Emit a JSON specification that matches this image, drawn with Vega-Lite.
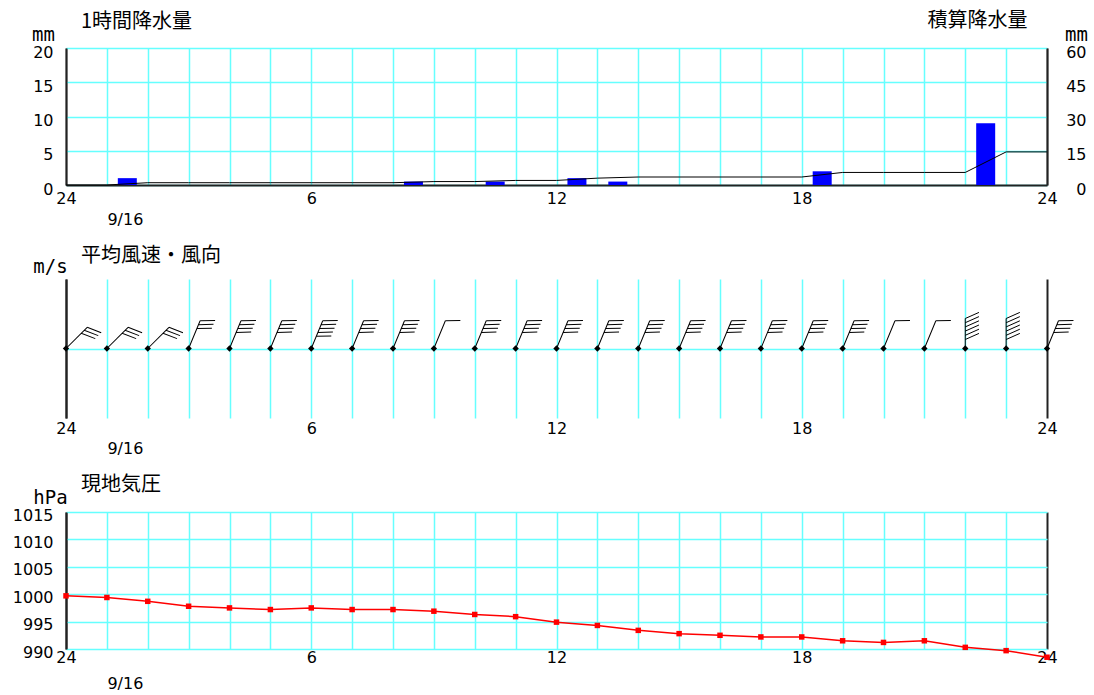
{
  "$schema": "https://vega.github.io/schema/vega-lite/v6.json",
  "padding": {"left": 12, "top": 10, "right": 5, "bottom": 5},
  "background": "#ffffff",
  "spacing": 94,
  "bounds": "flush",
  "datasets": {
    "precip": [
      {"t": 0.5, "mm": 0}, {"t": 1.5, "mm": 1.0}, {"t": 2.5, "mm": 0}, {"t": 3.5, "mm": 0},
      {"t": 4.5, "mm": 0}, {"t": 5.5, "mm": 0}, {"t": 6.5, "mm": 0}, {"t": 7.5, "mm": 0},
      {"t": 8.5, "mm": 0.5}, {"t": 9.5, "mm": 0}, {"t": 10.5, "mm": 0.5}, {"t": 11.5, "mm": 0},
      {"t": 12.5, "mm": 1.0}, {"t": 13.5, "mm": 0.5}, {"t": 14.5, "mm": 0}, {"t": 15.5, "mm": 0},
      {"t": 16.5, "mm": 0}, {"t": 17.5, "mm": 0}, {"t": 18.5, "mm": 2.0}, {"t": 19.5, "mm": 0},
      {"t": 20.5, "mm": 0}, {"t": 21.5, "mm": 0}, {"t": 22.5, "mm": 9.0}, {"t": 23.5, "mm": 0}
    ],
    "cum": [
      {"hour": 0, "total": 0}, {"hour": 1, "total": 0}, {"hour": 2, "total": 1.0}, {"hour": 3, "total": 1.0},
      {"hour": 4, "total": 1.0}, {"hour": 5, "total": 1.0}, {"hour": 6, "total": 1.0}, {"hour": 7, "total": 1.0},
      {"hour": 8, "total": 1.0}, {"hour": 9, "total": 1.5}, {"hour": 10, "total": 1.5}, {"hour": 11, "total": 2.0},
      {"hour": 12, "total": 2.0}, {"hour": 13, "total": 3.0}, {"hour": 14, "total": 3.5}, {"hour": 15, "total": 3.5},
      {"hour": 16, "total": 3.5}, {"hour": 17, "total": 3.5}, {"hour": 18, "total": 3.5}, {"hour": 19, "total": 5.5},
      {"hour": 20, "total": 5.5}, {"hour": 21, "total": 5.5}, {"hour": 22, "total": 5.5}, {"hour": 23, "total": 14.5},
      {"hour": 24, "total": 14.5}
    ],
    "wind": [
      {"hour": 0, "speed": 3, "direction": 45}, {"hour": 1, "speed": 3, "direction": 45},
      {"hour": 2, "speed": 3, "direction": 45}, {"hour": 3, "speed": 3, "direction": 22.5},
      {"hour": 4, "speed": 4, "direction": 22.5}, {"hour": 5, "speed": 4, "direction": 22.5},
      {"hour": 6, "speed": 5, "direction": 22.5}, {"hour": 7, "speed": 4, "direction": 22.5},
      {"hour": 8, "speed": 4, "direction": 22.5}, {"hour": 9, "speed": 1, "direction": 22.5},
      {"hour": 10, "speed": 4, "direction": 22.5}, {"hour": 11, "speed": 4, "direction": 22.5},
      {"hour": 12, "speed": 4, "direction": 22.5}, {"hour": 13, "speed": 4, "direction": 22.5},
      {"hour": 14, "speed": 4, "direction": 22.5}, {"hour": 15, "speed": 4, "direction": 22.5},
      {"hour": 16, "speed": 4, "direction": 22.5}, {"hour": 17, "speed": 4, "direction": 22.5},
      {"hour": 18, "speed": 4, "direction": 22.5}, {"hour": 19, "speed": 4, "direction": 22.5},
      {"hour": 20, "speed": 1, "direction": 22.5}, {"hour": 21, "speed": 1, "direction": 22.5},
      {"hour": 22, "speed": 6, "direction": 0}, {"hour": 23, "speed": 6, "direction": 0},
      {"hour": 24, "speed": 4, "direction": 22.5}
    ],
    "pressure": [
      {"hour": 0, "hPa": 999.7}, {"hour": 1, "hPa": 999.4}, {"hour": 2, "hPa": 998.7}, {"hour": 3, "hPa": 997.8},
      {"hour": 4, "hPa": 997.5}, {"hour": 5, "hPa": 997.2}, {"hour": 6, "hPa": 997.5}, {"hour": 7, "hPa": 997.2},
      {"hour": 8, "hPa": 997.2}, {"hour": 9, "hPa": 996.9}, {"hour": 10, "hPa": 996.3}, {"hour": 11, "hPa": 995.9},
      {"hour": 12, "hPa": 994.9}, {"hour": 13, "hPa": 994.3}, {"hour": 14, "hPa": 993.4}, {"hour": 15, "hPa": 992.8},
      {"hour": 16, "hPa": 992.5}, {"hour": 17, "hPa": 992.2}, {"hour": 18, "hPa": 992.2}, {"hour": 19, "hPa": 991.5},
      {"hour": 20, "hPa": 991.2}, {"hour": 21, "hPa": 991.5}, {"hour": 22, "hPa": 990.3}, {"hour": 23, "hPa": 989.7},
      {"hour": 24, "hPa": 988.5}
    ]
  },
  "vconcat": [
    {
      "width": 981,
      "height": 137,
      "title": {"text": "1時間降水量", "anchor": "start", "frame": "group", "dx": 15, "offset": -38, "baseline": "alphabetic", "font": "Noto Sans CJK JP", "fontSize": 20, "fontWeight": "normal", "color": "#000000"},
      "layer": [
        {
          "data": {"name": "precip"},
          "mark": {"type": "bar", "color": "#0000ff", "width": 19},
          "encoding": {
            "x": {"field": "t", "type": "quantitative", "scale": {"domain": [0, 24], "nice": false, "zero": false, "padding": 0},
              "axis": {"orient": "bottom", "title": null, "values": [0,1,2,3,4,5,6,7,8,9,10,11,12,13,14,15,16,17,18,19,20,21,22,23,24],
                "grid": true, "domain": true, "format": "d", "labelOverlap": false,
                "labelExpr": "datum.value == 0 || datum.value == 24 ? '24' : datum.value == 1 ? '9/16' : (datum.value % 6 == 0 ? datum.label : '')",
                "labelBaseline": "top",
                "labelAlign": {"condition": {"test": "datum.value == 1", "value": "left"}, "value": "center"},
                "labelPadding": {"condition": {"test": "datum.value == 1", "value": 26}, "value": 5},
                "gridColor": {"condition": {"test": "datum.value == 0 || datum.value == 24", "value": "#222222"}, "value": "#66ffff"}}},
            "y": {"field": "mm", "type": "quantitative", "scale": {"domain": [0, 20], "nice": false},
              "axis": {"orient": "left", "values": [0, 5, 10, 15, 20], "grid": true, "domain": true, "format": "d", "labelOverlap": false, "labelPadding": 13, "labelBaseline": "middle", "labelOffset": 4,
                "title": "mm", "titleAngle": 0, "titleAlign": "center", "titleBaseline": "alphabetic", "titleX": -23, "titleY": -8}}
          }
        },
        {
          "data": {"name": "cum"},
          "mark": {"type": "line", "color": "#000000", "strokeWidth": 1},
          "encoding": {
            "x": {"field": "hour", "type": "quantitative", "scale": {"domain": [0, 24], "nice": false, "zero": false, "padding": 0},
              "axis": {"orient": "top", "labels": false, "grid": false, "domain": false, "title": "積算降水量",
                "titleFont": "Noto Sans CJK JP", "titleFontSize": 20, "titleAlign": "right", "titleBaseline": "alphabetic", "titleX": 961, "titleY": -22}},
            "y": {"field": "total", "type": "quantitative", "scale": {"domain": [0, 60], "nice": false},
              "axis": {"orient": "right", "values": [0, 15, 30, 45, 60], "grid": false, "domain": true, "format": "d", "labelOverlap": false, "labelAlign": "right", "labelPadding": 39, "labelBaseline": "middle", "labelOffset": 4,
                "title": "mm", "titleAngle": 0, "titleAlign": "center", "titleBaseline": "alphabetic", "titleX": 29, "titleY": -8}}
          }
        }
      ],
      "resolve": {"scale": {"y": "independent"}, "axis": {"x": "independent", "y": "independent"}}
    },
    {
      "width": 981,
      "height": 139,
      "title": {"text": "平均風速・風向", "anchor": "start", "frame": "group", "dx": 15, "offset": -25, "baseline": "alphabetic", "font": "Noto Sans CJK JP", "fontSize": 20, "fontWeight": "normal", "color": "#000000"},
      "data": {"name": "wind"},
      "encoding": {
        "x": {"field": "hour", "type": "quantitative", "scale": {"domain": [0, 24], "nice": false, "zero": false, "padding": 0},
          "axis": {"orient": "bottom", "title": null, "values": [0,1,2,3,4,5,6,7,8,9,10,11,12,13,14,15,16,17,18,19,20,21,22,23,24],
            "grid": true, "domain": false, "format": "d", "labelOverlap": false,
            "labelExpr": "datum.value == 0 || datum.value == 24 ? '24' : datum.value == 1 ? '9/16' : (datum.value % 6 == 0 ? datum.label : '')",
            "labelBaseline": "top",
            "labelAlign": {"condition": {"test": "datum.value == 1", "value": "left"}, "value": "center"},
            "labelPadding": {"condition": {"test": "datum.value == 1", "value": 22}, "value": 2},
            "gridColor": {"condition": {"test": "datum.value == 0 || datum.value == 24", "value": "#222222"}, "value": "#66ffff"},
            "gridWidth": {"condition": {"test": "datum.value == 0 || datum.value == 24", "value": 2}, "value": 1.5}}},
        "y": {"datum": 0, "type": "quantitative", "scale": {"domain": [-1, 1], "nice": false},
          "axis": {"orient": "left", "values": [0], "labels": false, "grid": true, "domain": true,
            "title": "m/s", "titleAngle": 0, "titleAlign": "center", "titleBaseline": "alphabetic", "titleX": -16, "titleY": -7}}
      },
      "layer": [
        {
          "mark": {"type": "point", "filled": false, "stroke": "#000000", "strokeWidth": 1, "size": 3600, "opacity": 1},
          "encoding": {
            "shape": {"field": "speed", "type": "nominal", "legend": null,
              "scale": {"domain": [1, 3, 4, 5, 6],
                "range": [
                  "M0,0L0,-1M0,-1L0.457,-1.203",
                  "M0,0L0,-1M0,-1L0.457,-1.203M0,-0.86L0.457,-1.063M0,-0.72L0.457,-0.923",
                  "M0,0L0,-1M0,-1L0.457,-1.203M0,-0.86L0.457,-1.063M0,-0.72L0.457,-0.923M0,-0.58L0.457,-0.783",
                  "M0,0L0,-1M0,-1L0.457,-1.203M0,-0.86L0.457,-1.063M0,-0.72L0.457,-0.923M0,-0.58L0.457,-0.783M0,-0.44L0.457,-0.643",
                  "M0,0L0,-1M0,-1L0.457,-1.203M0,-0.86L0.457,-1.063M0,-0.72L0.457,-0.923M0,-0.58L0.457,-0.783M0,-0.44L0.457,-0.643M0,-0.30L0.457,-0.503"
                ]}},
            "angle": {"field": "direction", "type": "quantitative", "scale": null}
          }
        },
        {
          "mark": {"type": "point", "shape": "diamond", "filled": true, "color": "#000000", "size": 40, "opacity": 1}
        }
      ]
    },
    {
      "width": 981,
      "height": 137,
      "title": {"text": "現地気圧", "anchor": "start", "frame": "group", "dx": 15, "offset": -23, "baseline": "alphabetic", "font": "Noto Sans CJK JP", "fontSize": 20, "fontWeight": "normal", "color": "#000000"},
      "data": {"name": "pressure"},
      "encoding": {
        "x": {"field": "hour", "type": "quantitative", "scale": {"domain": [0, 24], "nice": false, "zero": false, "padding": 0},
          "axis": {"orient": "bottom", "title": null, "values": [0,1,2,3,4,5,6,7,8,9,10,11,12,13,14,15,16,17,18,19,20,21,22,23,24],
            "grid": true, "domain": false, "format": "d", "labelOverlap": false,
            "labelExpr": "datum.value == 0 || datum.value == 24 ? '24' : datum.value == 1 ? '9/16' : (datum.value % 6 == 0 ? datum.label : '')",
            "labelBaseline": "top",
            "labelAlign": {"condition": {"test": "datum.value == 1", "value": "left"}, "value": "center"},
            "labelPadding": {"condition": {"test": "datum.value == 1", "value": 26}, "value": 0},
            "gridColor": {"condition": {"test": "datum.value == 0 || datum.value == 24", "value": "#222222"}, "value": "#66ffff"},
            "gridWidth": {"condition": {"test": "datum.value == 0 || datum.value == 24", "value": 2}, "value": 1.5}}},
        "y": {"field": "hPa", "type": "quantitative", "scale": {"domain": [990, 1015], "nice": false, "zero": false},
          "axis": {"orient": "left", "values": [990, 995, 1000, 1005, 1010, 1015], "grid": true, "domain": true, "format": "d", "labelOverlap": false, "labelPadding": 13, "labelBaseline": "middle", "labelOffset": 3,
            "title": "hPa", "titleAngle": 0, "titleAlign": "center", "titleBaseline": "alphabetic", "titleX": -16, "titleY": -9}}
      },
      "layer": [
        {
          "mark": {"type": "line", "color": "#ff0000", "strokeWidth": 1.5}
        },
        {
          "mark": {"type": "point", "shape": "square", "filled": true, "color": "#ff0000", "size": 30, "opacity": 1}
        }
      ]
    }
  ],
  "config": {
    "view": {"stroke": null},
    "axis": {
      "labelFont": "DejaVu Sans", "labelFontSize": 16, "labelColor": "#000000",
      "ticks": false, "tickSize": 0,
      "gridColor": "#66ffff", "gridWidth": 1.5, "gridOpacity": 1,
      "domainColor": "#222222", "domainWidth": 2,
      "titleFont": "DejaVu Sans Mono", "titleFontSize": 19, "titleFontWeight": "normal", "titleColor": "#000000", "titlePadding": 0,
      "labelOverlap": false, "labelBound": false, "labelFlush": false
    }
  }
}
